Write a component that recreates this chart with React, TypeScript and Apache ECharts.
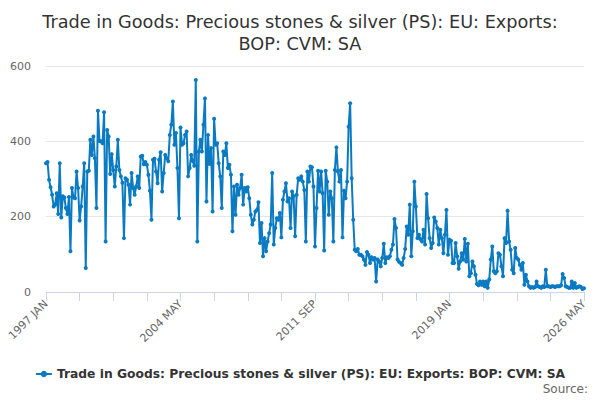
import React, { useEffect, useRef } from "react";
import * as echarts from "echarts";

const TITLE = "Trade in Goods: Precious stones & silver (PS): EU: Exports:\nBOP: CVM: SA";
const SERIES_NAME = "Trade in Goods: Precious stones & silver (PS): EU: Exports: BOP: CVM: SA";
const SOURCE_TEXT = "Source:";
const MONTHS = ["JAN", "FEB", "MAR", "APR", "MAY", "JUN", "JUL", "AUG", "SEP", "OCT", "NOV", "DEC"];
const START_YEAR = 1997;
const Y_TICKS = [0, 200, 400, 600];

// monthly values, Jan 1997 .. May 2026
const values = [
  342, 345, 298, 278, 258, 227, 232, 262, 207, 342, 198, 254, // 1997
  251, 223, 207, 252, 108, 276, 251, 249, 320, 276, 190, 227, // 1998
  280, 342, 64, 320, 322, 404, 364, 413, 355, 223, 481, 401, // 1999
  400, 395, 477, 134, 430, 413, 313, 366, 324, 280, 333, 404, // 2000
  324, 307, 290, 143, 302, 298, 285, 232, 316, 276, 258, 280, // 2001
  307, 276, 360, 362, 339, 345, 338, 311, 269, 192, 351, 354, // 2002
  320, 289, 351, 371, 267, 316, 364, 355, 347, 417, 444, 506, // 2003
  391, 422, 329, 196, 437, 391, 395, 417, 426, 307, 329, 364, // 2004
  348, 335, 563, 134, 373, 404, 373, 444, 514, 240, 417, 340, // 2005
  382, 214, 460, 391, 395, 342, 307, 223, 373, 364, 395, 329, // 2006
  338, 311, 161, 280, 205, 285, 258, 276, 311, 232, 276, 267, // 2007
  278, 249, 205, 179, 192, 214, 218, 238, 130, 183, 95, 143, // 2008
  108, 134, 156, 179, 316, 126, 170, 196, 192, 210, 145, 245, // 2009
  267, 289, 240, 249, 170, 267, 254, 148, 258, 302, 298, 307, // 2010
  293, 271, 134, 320, 293, 333, 331, 280, 121, 223, 322, 267, // 2011
  320, 262, 110, 322, 293, 205, 267, 249, 134, 324, 384, 320, // 2012
  293, 324, 145, 269, 249, 293, 439, 501, 302, 192, 112, 108, // 2013
  114, 99, 99, 95, 86, 72, 106, 99, 77, 92, 86, 90, // 2014
  28, 86, 81, 68, 90, 128, 77, 92, 90, 95, 112, 126, // 2015
  194, 170, 86, 80, 77, 72, 90, 114, 174, 152, 232, 95, // 2016
  161, 293, 227, 143, 152, 140, 134, 165, 126, 260, 196, 143, // 2017
  117, 130, 198, 187, 170, 126, 165, 143, 103, 152, 218, 99, // 2018
  139, 136, 77, 77, 130, 95, 62, 81, 103, 86, 141, 81, // 2019
  128, 42, 50, 81, 68, 46, 21, 18, 28, 19, 28, 15, // 2020
  28, 11, 33, 86, 121, 55, 50, 55, 103, 99, 68, 42, // 2021
  143, 130, 216, 134, 112, 59, 50, 117, 90, 86, 72, 59, // 2022
  77, 19, 46, 28, 15, 11, 13, 11, 13, 28, 15, 13, // 2023
  11, 15, 13, 59, 15, 15, 13, 15, 15, 13, 15, 15, // 2024
  15, 18, 48, 37, 15, 13, 11, 11, 28, 11, 24, 11, // 2025
  13, 15, 13, 8, 10, // 2026
];

const categories = values.map(
  (_, i) => `${START_YEAR + Math.floor(i / 12)} ${MONTHS[i % 12]}`
);

const FONT = "'DejaVu Sans', Verdana, sans-serif";
const LINE_COLOR = "#0a7bc2";

export default function App() {
  const ref = useRef<HTMLDivElement>(null);

  useEffect(() => {
    if (!ref.current) return;
    const chart = echarts.init(ref.current, undefined, { renderer: "svg" });
    chart.setOption({
      animation: false,
      backgroundColor: "#ffffff",
      textStyle: { fontFamily: FONT },
      title: {
        text: TITLE,
        left: "center",
        top: 6,
        textStyle: {
          fontFamily: FONT,
          fontSize: 17.7,
          fontWeight: "normal",
          color: "#333333",
          lineHeight: 22,
          align: "center",
        },
      },
      grid: { left: 46, right: 16, top: 66, bottom: 108, containLabel: false },
      xAxis: {
        type: "category",
        data: categories,
        boundaryGap: false,
        axisLine: { show: true, lineStyle: { color: "#ccd6eb", width: 1 } },
        axisTick: {
          show: true,
          interval: 21,
          length: 9,
          lineStyle: { color: "#ccd6eb", width: 1 },
        },
        axisLabel: {
          interval: 87,
          rotate: 45,
          color: "#666666",
          fontSize: 11,
          fontFamily: FONT,
          margin: 10,
        },
        splitLine: { show: false },
      },
      yAxis: {
        type: "value",
        min: Y_TICKS[0],
        max: Y_TICKS[Y_TICKS.length - 1],
        interval: Y_TICKS[1] - Y_TICKS[0],
        axisLine: { show: false },
        axisTick: { show: false },
        axisLabel: {
          color: "#666666",
          fontSize: 11,
          fontFamily: FONT,
          margin: 15,
          padding: [4, 0, 0, 0],
        },
        splitLine: { show: true, lineStyle: { color: "#e6e6e6", width: 1 } },
      },
      legend: {
        show: true,
        bottom: 15,
        left: "center",
        itemWidth: 16,
        itemHeight: 8,
        itemGap: 10,
        textStyle: {
          fontFamily: FONT,
          fontSize: 12.3,
          fontWeight: "bold",
          color: "#333333",
        },
        data: [SERIES_NAME],
      },
      graphic: [
        {
          type: "text",
          right: 12,
          top: 383,
          style: {
            text: SOURCE_TEXT,
            fill: "#666666",
            font: `12px ${FONT}`,
          },
        },
      ],
      series: [
        {
          name: SERIES_NAME,
          type: "line",
          data: values,
          symbol: "circle",
          symbolSize: 4,
          showSymbol: true,
          showAllSymbol: true,
          itemStyle: { color: LINE_COLOR },
          lineStyle: { color: LINE_COLOR, width: 2 },
        },
      ],
    });
    return () => chart.dispose();
  }, []);

  return (
    <div
      ref={ref}
      style={{ position: "fixed", left: 0, top: 0, width: 600, height: 400 }}
    />
  );
}
